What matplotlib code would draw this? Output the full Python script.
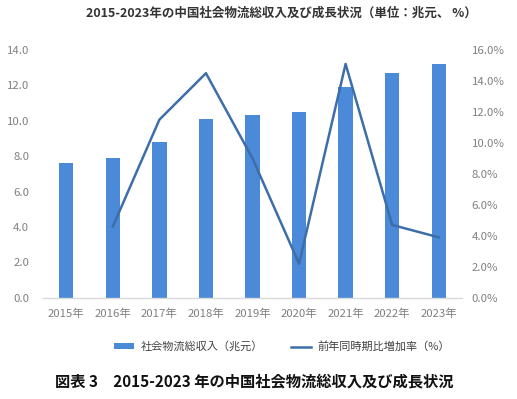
import matplotlib
matplotlib.use("Agg")
import matplotlib.pyplot as plt
from matplotlib.patches import Patch
from matplotlib.lines import Line2D

plt.rcParams['font.family'] = ['Noto Sans CJK JP', 'DejaVu Sans']

years = ["2015年", "2016年", "2017年", "2018年", "2019年", "2020年", "2021年", "2022年", "2023年"]
revenue = [7.6, 7.9, 8.8, 10.1, 10.3, 10.5, 11.9, 12.7, 13.2]
growth_years = ["2016年", "2017年", "2018年", "2019年", "2020年", "2021年", "2022年", "2023年"]
growth = [4.6, 11.5, 14.5, 9.0, 2.2, 15.1, 4.7, 3.9]

left_ticks = [0, 2, 4, 6, 8, 10, 12, 14]
right_ticks = [0, 2, 4, 6, 8, 10, 12, 14, 16]

bar_color = "#4a8ad9"
line_color = "#3d6ea9"
tick_color = "#808080"

fig = plt.figure(figsize=(5.17, 3.99), dpi=100)
ax = fig.add_axes([43/517, 1-297.7/399, (462-43)/517, (297.7-50)/399])
x = list(range(len(years)))
ax.bar(x, revenue, width=0.31, color=bar_color, zorder=2)
ax.set_xlim(-0.5, len(years)-0.5)
ax.set_ylim(0, 14)
ax.set_yticks(left_ticks)
ax.set_yticklabels([f"{v:.1f}" for v in left_ticks])
ax.set_xticks(x)
ax.set_xticklabels(years)
for s in ["top", "right", "left"]:
    ax.spines[s].set_visible(False)
ax.spines["bottom"].set_color("#d9d9d9")
ax.spines["bottom"].set_linewidth(1.0)
ax.tick_params(axis="both", length=0, labelsize=8.2, colors=tick_color)
ax.tick_params(axis="y", pad=10)
ax.tick_params(axis="x", pad=8)

ax2 = ax.twinx()
gx = [years.index(y) for y in growth_years]
ax2.plot(gx, growth, color=line_color, linewidth=1.8, zorder=3)
ax2.set_ylim(0, 16)
ax2.set_yticks(right_ticks)
ax2.set_yticklabels([f"{v:.1f}%" for v in right_ticks])
for s in ["top", "right", "left", "bottom"]:
    ax2.spines[s].set_visible(False)
ax2.tick_params(axis="y", length=0, labelsize=8.2, colors=tick_color, pad=7)

fig.text(281/517, 1-13/399, "2015-2023年の中国社会物流総収入及び成長状況（単位：兆元、 %）",
         ha="center", va="center", fontsize=9, fontweight="bold", color="#333333")

handles = [Patch(facecolor=bar_color, edgecolor="none"),
           Line2D([0], [0], color=line_color, linewidth=1.8)]
labels = ["社会物流総収入（兆元）", "前年同時期比増加率（%）"]
fig.legend(handles, labels, loc="center", bbox_to_anchor=(282/517, 1-346.7/399), ncol=2,
           frameon=False, fontsize=8, labelcolor="#404040", handlelength=1.8,
           handleheight=0.5, columnspacing=2.5, handletextpad=0.6)

fig.text(254/517, 1-381.7/399, "図表 3　2015-2023 年の中国社会物流総収入及び成長状況",
         ha="center", va="center", fontsize=11, fontweight="bold", color="#111111")

fig.savefig("out.png", dpi=100, facecolor="white")
